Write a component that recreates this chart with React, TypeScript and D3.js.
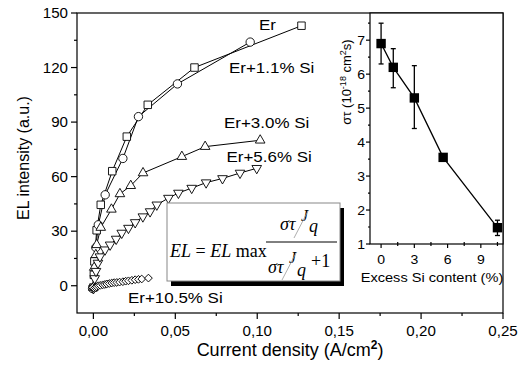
import React from "react";
import * as d3 from "d3";

// ---- Main plot data (current density A/cm^2, EL intensity a.u.) ----
const erJ = [0, 0.0003, 0.0006, 0.002, 0.0045, 0.0115, 0.0204, 0.0332, 0.0617, 0.127];
const erEL = [-1, 6, 13.4, 30.5, 44.5, 63, 82, 99.5, 120, 143];

const si11J = [-0.0005, 0.0015, 0.003, 0.0072, 0.018, 0.0275, 0.0513, 0.0957];
const si11EL = [-1.5, 21, 33.5, 50, 70, 93, 111, 134];

const si30J = [0, 0.0005, 0.0015, 0.002, 0.0045, 0.011, 0.0162, 0.0228, 0.0303, 0.054, 0.0682, 0.1018];
const si30EL = [-1, 10, 17, 22.5, 32, 42, 50.5, 55, 62, 71, 76.5, 80];

const si56J = [0, 0.0008, 0.0016, 0.0028, 0.004, 0.0071, 0.0102, 0.0139, 0.0173, 0.0214, 0.0255, 0.0302, 0.0346, 0.0387, 0.0458, 0.0519, 0.06, 0.0688, 0.0788, 0.0895, 0.0997];
const si56EL = [-1.5, 4, 8, 12.5, 16, 19.8, 22.5, 25.7, 29, 31.7, 34.8, 38, 40.8, 44.5, 48.2, 51, 53.7, 56.7, 59, 62, 64.6];

const si105J = [-0.0005, 0.0005, 0.0012, 0.002, 0.003, 0.0042, 0.0057, 0.007, 0.0082, 0.0097, 0.0112, 0.0127, 0.0143, 0.016, 0.018, 0.0197, 0.0214, 0.0235, 0.0255, 0.0275, 0.0295, 0.0336];
const si105EL = [-1, -1.5, -1, -0.5, 0, 0.2, 0.5, 0.7, 1.0, 1.2, 1.5, 1.7, 1.8, 2.0, 2.2, 2.5, 2.7, 3.0, 3.3, 3.5, 3.7, 4.2];

const xTicks = [0, 0.05, 0.1, 0.15, 0.2, 0.25];
const xMinor = [0.025, 0.075, 0.125, 0.175, 0.225];
const yTicks = [0, 30, 60, 90, 120, 150];
const yMinor = [15, 45, 75, 105, 135];

// ---- Inset data (excess Si %, sigma*tau, error low, error high) ----
const siContent = [0, 1.1, 3.0, 5.6, 10.5];
const sigmaTau = [6.9, 6.2, 5.3, 3.55, 1.48];
const errLow = [6.3, 5.6, 4.4, 3.55, 1.25];
const errHigh = [7.5, 6.75, 6.25, 3.55, 1.7];
const insetXTicks = [0, 3, 6, 9];
const insetXMinor = [1.5, 4.5, 7.5, 10.5];
const insetYTicks = [1, 2, 3, 4, 5, 6, 7];
const insetYMinor = [1.5, 2.5, 3.5, 4.5, 5.5, 6.5, 7.5];

const SANS = "'Liberation Sans', Arial, Helvetica, sans-serif";
const SERIF = "'Liberation Serif', 'Times New Roman', serif";

function T({ x, y, children, size = 14, anchor = "start", sx = 1.08, rotate = 0, weight = "normal", family = SANS }: any) {
  return (
    <text
      transform={`translate(${x},${y}) rotate(${rotate}) scale(${sx},1)`}
      fontSize={size}
      fontFamily={family}
      textAnchor={anchor}
      fontWeight={weight}
      fill="#000"
    >
      {children}
    </text>
  );
}

export default function App() {
  const L = 77, R = 503, TOP = 13, B = 313;
  const x = d3.scaleLinear().domain([-0.01, 0.25]).range([L, R]);
  const y = d3.scaleLinear().domain([-15, 150]).range([B, TOP]);

  const IL = 370, IR = 503, IT = 13, IB = 244;
  const ix = d3.scaleLinear().domain([-1, 11]).range([IL, IR]);
  const iy = d3.scaleLinear().domain([1, 7.8]).range([IB, IT]);

  const line = d3.line<[number, number]>().x((d) => x(d[0])).y((d) => y(d[1]));
  const iline = d3.line<[number, number]>().x((d) => ix(d[0])).y((d) => iy(d[1]));

  const series = [
    { J: erJ, EL: erEL, sym: d3.symbolSquare, size: 56, rot: 0 },
    { J: si11J, EL: si11EL, sym: d3.symbolCircle, size: 55, rot: 0 },
    { J: si30J, EL: si30EL, sym: d3.symbolTriangle, size: 40, rot: 0 },
    { J: si56J, EL: si56EL, sym: d3.symbolTriangle, size: 40, rot: 180 },
    { J: si105J, EL: si105EL, sym: d3.symbolSquare, size: 30, rot: 45 },
  ];

  const fmt = (v: number) => d3.format(".2f")(v).replace(".", ",");

  return (
    <svg width={521} height={372} style={{ position: "absolute", left: 0, top: 0, background: "#fff" }}>
      <rect x={0} y={0} width={521} height={372} fill="#fff" />
      {/* main frame */}
      <rect x={L} y={TOP} width={R - L} height={B - TOP} fill="none" stroke="#000" strokeWidth={1.2} />

      {/* main x ticks */}
      {xTicks.map((t) => (
        <g key={"xt" + t}>
          <line x1={x(t)} x2={x(t)} y1={B} y2={B + 6} stroke="#000" strokeWidth={1.2} />
          <T x={x(t)} y={336} anchor="middle" size={14}>{fmt(t)}</T>
        </g>
      ))}
      {xMinor.map((t) => (
        <line key={"xm" + t} x1={x(t)} x2={x(t)} y1={B} y2={B + 3} stroke="#000" strokeWidth={1.2} />
      ))}
      {/* main y ticks */}
      {yTicks.map((t) => (
        <g key={"yt" + t}>
          <line x1={L - 6} x2={L} y1={y(t)} y2={y(t)} stroke="#000" strokeWidth={1.2} />
          <T x={68} y={y(t) + 5} anchor="end" size={14}>{t}</T>
        </g>
      ))}
      {yMinor.map((t) => (
        <line key={"ym" + t} x1={L - 3} x2={L} y1={y(t)} y2={y(t)} stroke="#000" strokeWidth={1.2} />
      ))}

      {/* axis titles */}
      <text x={290} y={356} fontSize={18} fontFamily={SANS} textAnchor="middle">
        Current density (A/cm<tspan fontSize={12} dy={-7} fontWeight="bold">2</tspan><tspan dy={7}>)</tspan>
      </text>
      <T x={29} y={158} rotate={-90} anchor="middle" size={16} sx={1.0}>EL intensity (a.u.)</T>

      {/* series lines */}
      {series.map((s, i) => (
        <path key={"l" + i} d={line(d3.zip(s.J, s.EL) as [number, number][]) || ""} fill="none" stroke="#000" strokeWidth={1} />
      ))}
      {/* markers */}
      {series.map((s, i) => {
        const p = d3.symbol().type(s.sym).size(s.size)() || "";
        return (
          <g key={"m" + i}>
            {s.J.map((j, k) => (
              <path
                key={k}
                d={p}
                transform={`translate(${x(j)},${y(s.EL[k])}) rotate(${s.rot})`}
                fill="#fff"
                stroke="#000"
                strokeWidth={0.9}
              />
            ))}
          </g>
        );
      })}

      {/* series labels */}
      <T x={259} y={30} size={15} sx={1.13}>Er</T>
      <T x={229} y={73} size={15} sx={1.13}>Er+1.1% Si</T>
      <T x={224} y={128} size={15} sx={1.13}>Er+3.0% Si</T>
      <T x={226.5} y={162} size={15} sx={1.13}>Er+5.6% Si</T>
      <T x={128} y={303} size={15} sx={1.13}>Er+10.5% Si</T>

      {/* formula box */}
      <rect x={171} y={208} width={173} height={78} fill="#000" />
      <rect x={167} y={203} width={173} height={78} fill="#fff" stroke="#888" strokeWidth={1} />
      <text x={170} y={257} fontSize={18} fontFamily={SERIF}>
        <tspan fontStyle="italic">EL</tspan> = <tspan fontStyle="italic">EL</tspan> max
      </text>
      <line x1={266} x2={337} y1={242} y2={242} stroke="#000" strokeWidth={1} />
      {/* numerator */}
      <text x={280} y={230} fontSize={18} fontFamily={SERIF} fontStyle="italic">στ</text>
      <text x={301} y={221} fontSize={16} fontFamily={SERIF} fontStyle="italic">J</text>
      <line x1={294} x2={308} y1={238} y2={211} stroke="#999" strokeWidth={0.8} />
      <text x={309} y={232} fontSize={18} fontFamily={SERIF} fontStyle="italic">q</text>
      {/* denominator */}
      <text x={268} y={273} fontSize={18} fontFamily={SERIF} fontStyle="italic">στ</text>
      <text x={289} y={263} fontSize={16} fontFamily={SERIF} fontStyle="italic">J</text>
      <line x1={282} x2={296} y1={280} y2={253} stroke="#999" strokeWidth={0.8} />
      <text x={297} y={276} fontSize={18} fontFamily={SERIF} fontStyle="italic">q</text>
      <text x={311} y={267} fontSize={18} fontFamily={SERIF}>+1</text>

      {/* inset */}
      <rect x={IL} y={IT} width={IR - IL} height={IB - IT} fill="#fff" stroke="#000" strokeWidth={1.2} />
      {insetXTicks.map((t) => (
        <g key={"ixt" + t}>
          <line x1={ix(t)} x2={ix(t)} y1={IB} y2={IB + 4} stroke="#000" strokeWidth={1.2} />
          <T x={ix(t)} y={264} anchor="middle" size={13}>{t}</T>
        </g>
      ))}
      {insetXMinor.map((t) => (
        <line key={"ixm" + t} x1={ix(t)} x2={ix(t)} y1={IB - 2} y2={IB + 2} stroke="#000" strokeWidth={1.2} />
      ))}
      {insetYTicks.map((t) => (
        <g key={"iyt" + t}>
          <line x1={IL - 4} x2={IL} y1={iy(t)} y2={iy(t)} stroke="#000" strokeWidth={1.2} />
          <T x={365} y={iy(t) + 4.5} anchor="end" size={13}>{t}</T>
        </g>
      ))}
      {insetYMinor.map((t) => (
        <line key={"iym" + t} x1={IL - 2} x2={IL} y1={iy(t)} y2={iy(t)} stroke="#000" strokeWidth={1.2} />
      ))}
      <T x={432} y={282} anchor="middle" size={13.5}>Excess Si content (%)</T>
      <text transform={`translate(351,82) rotate(-90)`} fontSize={13} fontFamily={SANS} textAnchor="middle">
        στ (10<tspan fontSize={9} dy={-5}>-18</tspan><tspan dy={5}> cm</tspan><tspan fontSize={9} dy={-5}>2</tspan><tspan dy={5}>s)</tspan>
      </text>

      <path d={iline(d3.zip(siContent, sigmaTau) as [number, number][]) || ""} fill="none" stroke="#000" strokeWidth={1.3} />
      {siContent.map((c, i) => (
        <g key={"e" + i}>
          {errHigh[i] !== errLow[i] && (
            <g stroke="#000" strokeWidth={1.3}>
              <line x1={ix(c)} x2={ix(c)} y1={iy(errLow[i])} y2={iy(errHigh[i])} />
              <line x1={ix(c) - 2.5} x2={ix(c) + 2.5} y1={iy(errLow[i])} y2={iy(errLow[i])} />
              <line x1={ix(c) - 2.5} x2={ix(c) + 2.5} y1={iy(errHigh[i])} y2={iy(errHigh[i])} />
            </g>
          )}
          <rect x={ix(c) - 4.7} y={iy(sigmaTau[i]) - 4.7} width={9.4} height={9.4} fill="#000" />
        </g>
      ))}
    </svg>
  );
}
